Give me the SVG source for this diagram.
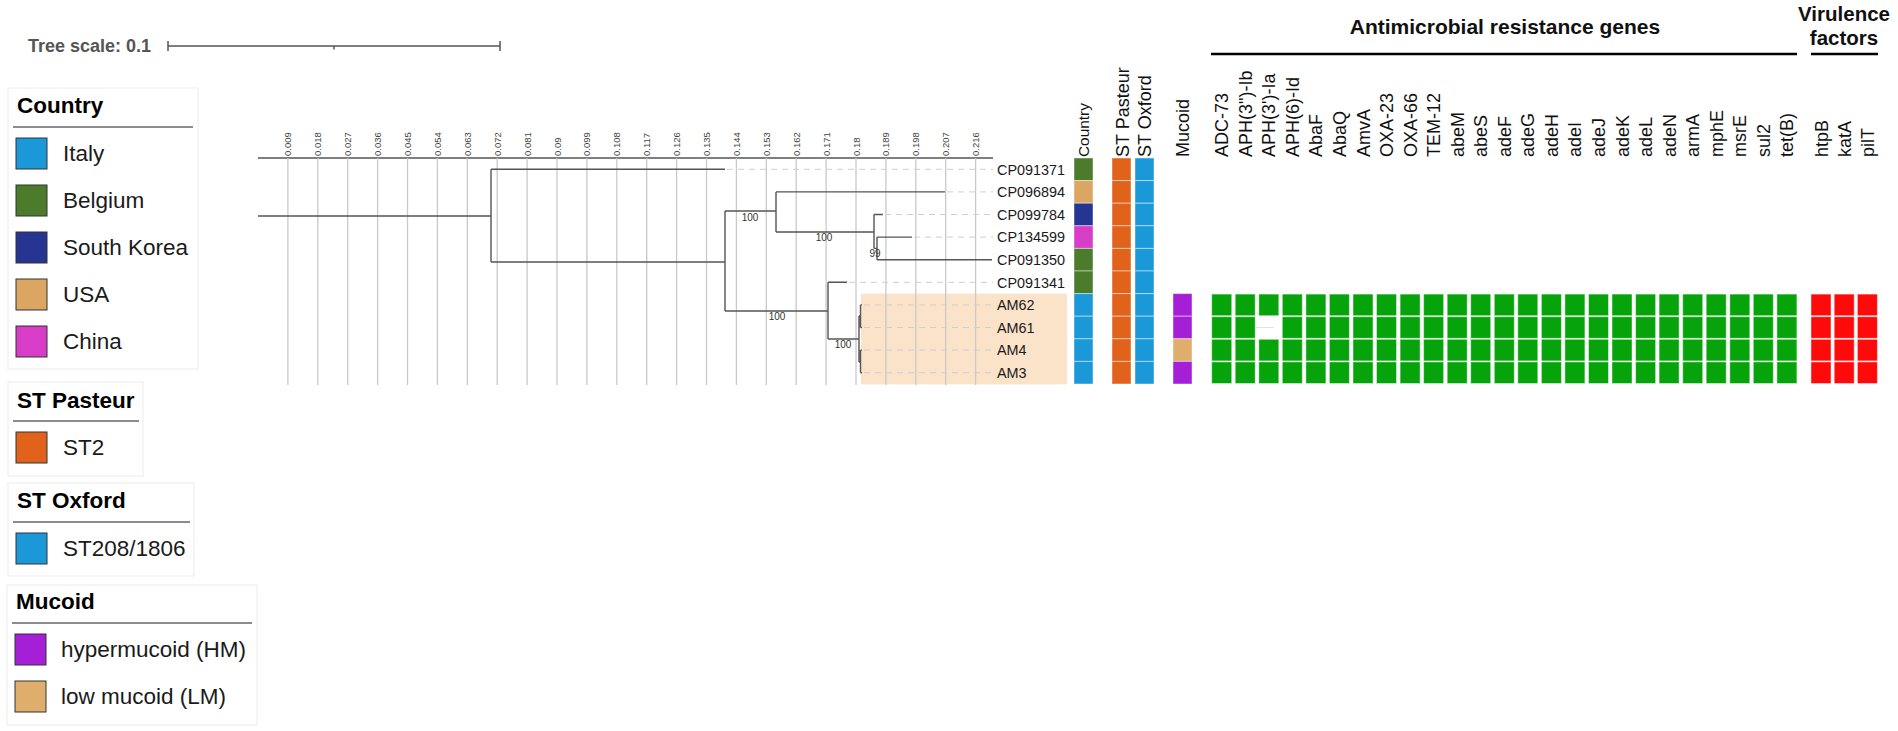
<svg xmlns="http://www.w3.org/2000/svg" width="1898" height="731" viewBox="0 0 1898 731">
<style>
text{font-family:"Liberation Sans",Arial,sans-serif;}
.lbox{fill:#fff;stroke:#ebebeb;stroke-width:1}
.ltitle{font-size:22.5px;font-weight:bold;fill:#000}
.litem{font-size:22.5px;fill:#1a1a1a}
.uline{stroke:#666;stroke-width:1.6}
.sw{stroke:#333;stroke-width:1}
.grid{stroke:#c9c9c9;stroke-width:1.3}
.tick{font-size:9.5px;fill:#444}
.br{stroke:#555;stroke-width:1.4;fill:none}
.lead{stroke:#cfcfcf;stroke-width:1;stroke-dasharray:6 5}
.boot{font-size:10px;fill:#333;text-anchor:middle}
.leaf{font-size:14.4px;fill:#1a1a1a}
.hdr{font-size:18px;fill:#111}
.cell{stroke:#fff;stroke-opacity:0.45;stroke-width:1}
.g{fill:#06a30b}
.r{fill:#fe0a0a}
.big{font-size:21px;font-weight:bold;fill:#111;text-anchor:middle}
</style>

<g id="tree-scale">
<text x="28" y="52" style="font-size:18px;font-weight:bold;fill:#555">Tree scale: 0.1</text>
<path d="M168,46H500M168,41V51M500,41V51M334,46V49.5" stroke="#555" stroke-width="1.5" fill="none"/>
</g>

<g id="legend-country">
<rect class="lbox" x="8" y="88" width="190" height="281"/>
<text class="ltitle" x="17" y="113">Country</text>
<line class="uline" x1="13" y1="127" x2="193" y2="127"/>
<rect class="sw" x="16" y="138" width="31" height="31" fill="#1b98d8"/><text class="litem" x="63" y="161">Italy</text>
<rect class="sw" x="16" y="185" width="31" height="31" fill="#4b7b2b"/><text class="litem" x="63" y="208">Belgium</text>
<rect class="sw" x="16" y="232" width="31" height="31" fill="#263592"/><text class="litem" x="63" y="255">South Korea</text>
<rect class="sw" x="16" y="279" width="31" height="31" fill="#dba662"/><text class="litem" x="63" y="302">USA</text>
<rect class="sw" x="16" y="326" width="31" height="31" fill="#d83dc8"/><text class="litem" x="63" y="349">China</text>
</g>

<g id="legend-st-pasteur">
<rect class="lbox" x="8" y="382" width="135" height="94"/>
<text class="ltitle" x="17" y="408">ST Pasteur</text>
<line class="uline" x1="13" y1="421" x2="139" y2="421"/>
<rect class="sw" x="16" y="432" width="31" height="31" fill="#e0621b"/><text class="litem" x="63" y="455">ST2</text>
</g>

<g id="legend-st-oxford">
<rect class="lbox" x="8" y="483" width="186" height="93"/>
<text class="ltitle" x="17" y="508">ST Oxford</text>
<line class="uline" x1="13" y1="522" x2="190" y2="522"/>
<rect class="sw" x="16" y="533" width="31" height="31" fill="#1b98d8"/><text class="litem" x="63" y="556">ST208/1806</text>
</g>

<g id="legend-mucoid">
<rect class="lbox" x="7" y="585" width="250" height="140"/>
<text class="ltitle" x="16" y="609">Mucoid</text>
<line class="uline" x1="12" y1="623" x2="252" y2="623"/>
<rect class="sw" x="15" y="634" width="31" height="31" fill="#a51fd6"/><text class="litem" x="61" y="657">hypermucoid (HM)</text>
<rect class="sw" x="15" y="681" width="31" height="31" fill="#dfae6c"/><text class="litem" x="61" y="704">low mucoid (LM)</text>
</g>

<g id="highlight">
<rect x="861" y="293.6" width="206" height="90.8" fill="#fbe3c9"/>
</g>

<g id="axis">
<line x1="258" y1="158" x2="993" y2="158" stroke="#555" stroke-width="1.3"/>
<g class="grid">
<line x1="287.9" y1="158" x2="287.9" y2="385"/><line x1="317.8" y1="158" x2="317.8" y2="385"/><line x1="347.7" y1="158" x2="347.7" y2="385"/><line x1="377.6" y1="158" x2="377.6" y2="385"/><line x1="407.5" y1="158" x2="407.5" y2="385"/><line x1="437.4" y1="158" x2="437.4" y2="385"/><line x1="467.3" y1="158" x2="467.3" y2="385"/><line x1="497.2" y1="158" x2="497.2" y2="385"/><line x1="527.1" y1="158" x2="527.1" y2="385"/><line x1="557" y1="158" x2="557" y2="385"/><line x1="586.9" y1="158" x2="586.9" y2="385"/><line x1="616.8" y1="158" x2="616.8" y2="385"/><line x1="646.7" y1="158" x2="646.7" y2="385"/><line x1="676.6" y1="158" x2="676.6" y2="385"/><line x1="706.5" y1="158" x2="706.5" y2="385"/><line x1="736.4" y1="158" x2="736.4" y2="385"/><line x1="766.3" y1="158" x2="766.3" y2="385"/><line x1="796.2" y1="158" x2="796.2" y2="385"/><line x1="826.1" y1="158" x2="826.1" y2="385"/><line x1="856" y1="158" x2="856" y2="385"/><line x1="885.9" y1="158" x2="885.9" y2="385"/><line x1="915.8" y1="158" x2="915.8" y2="385"/><line x1="945.7" y1="158" x2="945.7" y2="385"/><line x1="975.6" y1="158" x2="975.6" y2="385"/>
</g>
<g class="tick">
<text transform="translate(291.4,156) rotate(-90)">0.009</text>
<text transform="translate(321.3,156) rotate(-90)">0.018</text>
<text transform="translate(351.2,156) rotate(-90)">0.027</text>
<text transform="translate(381.1,156) rotate(-90)">0.036</text>
<text transform="translate(411,156) rotate(-90)">0.045</text>
<text transform="translate(440.9,156) rotate(-90)">0.054</text>
<text transform="translate(470.8,156) rotate(-90)">0.063</text>
<text transform="translate(500.7,156) rotate(-90)">0.072</text>
<text transform="translate(530.6,156) rotate(-90)">0.081</text>
<text transform="translate(560.5,156) rotate(-90)">0.09</text>
<text transform="translate(590.4,156) rotate(-90)">0.099</text>
<text transform="translate(620.3,156) rotate(-90)">0.108</text>
<text transform="translate(650.2,156) rotate(-90)">0.117</text>
<text transform="translate(680.1,156) rotate(-90)">0.126</text>
<text transform="translate(710,156) rotate(-90)">0.135</text>
<text transform="translate(739.9,156) rotate(-90)">0.144</text>
<text transform="translate(769.8,156) rotate(-90)">0.153</text>
<text transform="translate(799.7,156) rotate(-90)">0.162</text>
<text transform="translate(829.6,156) rotate(-90)">0.171</text>
<text transform="translate(859.5,156) rotate(-90)">0.18</text>
<text transform="translate(889.4,156) rotate(-90)">0.189</text>
<text transform="translate(919.3,156) rotate(-90)">0.198</text>
<text transform="translate(949.2,156) rotate(-90)">0.207</text>
<text transform="translate(979.1,156) rotate(-90)">0.216</text>
</g>
</g>

<g id="connectors">
<g class="lead">
<line x1="727" y1="169.3" x2="993" y2="169.3"/>
<line x1="947" y1="191.9" x2="993" y2="191.9"/>
<line x1="885" y1="214.5" x2="993" y2="214.5"/>
<line x1="914" y1="237.1" x2="993" y2="237.1"/>
<line x1="849" y1="282.3" x2="993" y2="282.3"/>
<line x1="864" y1="304.9" x2="993" y2="304.9"/>
<line x1="864" y1="327.5" x2="993" y2="327.5"/>
<line x1="864" y1="350.1" x2="993" y2="350.1"/>
<line x1="864" y1="372.7" x2="993" y2="372.7"/>
</g>
<path class="br" d="M258,216H491M491,169.3V262M491,169.3H725M491,262H725M725,211V311M725,211H776M776,191.9V232M776,191.9H945M776,232H874M874,214.5V248.4M874,214.5H883M874,248.4H877M877,237.1V259.7M877,237.1H912M877,259.7H992M725,311H828M828,282.3V339M828,282.3H847M828,339H859M859,316V362M859,316H860.5M859,362H860.5M860.5,304.9V327.5M860.5,350.1V372.7M860.5,304.9H862M860.5,327.5H862M860.5,350.1H862M860.5,372.7H862"/>
<text class="boot" x="750" y="221">100</text>
<text class="boot" x="824" y="241">100</text>
<text class="boot" x="875" y="257">99</text>
<text class="boot" x="777" y="320">100</text>
<text class="boot" x="843" y="348">100</text>
</g>

<g id="leaves" class="leaf">
<text x="997" y="174.5">CP091371</text>
<text x="997" y="197.1">CP096894</text>
<text x="997" y="219.7">CP099784</text>
<text x="997" y="242.3">CP134599</text>
<text x="997" y="264.9">CP091350</text>
<text x="997" y="287.5">CP091341</text>
<text x="997" y="310.1">AM62</text>
<text x="997" y="332.7">AM61</text>
<text x="997" y="355.3">AM4</text>
<text x="997" y="377.9">AM3</text>
</g>

<g id="strip-country">
<text transform="translate(1089,157) rotate(-90)" style="font-size:15.4px;fill:#111">Country</text>
<g class="cell">
<rect x="1074" y="158" width="19" height="22.6" fill="#4b7b2b"/>
<rect x="1074" y="180.6" width="19" height="22.6" fill="#dba662"/>
<rect x="1074" y="203.2" width="19" height="22.6" fill="#263592"/>
<rect x="1074" y="225.8" width="19" height="22.6" fill="#d83dc8"/>
<rect x="1074" y="248.4" width="19" height="22.6" fill="#4b7b2b"/>
<rect x="1074" y="271" width="19" height="22.6" fill="#4b7b2b"/>
<rect x="1074" y="293.6" width="19" height="22.6" fill="#1b98d8"/>
<rect x="1074" y="316.2" width="19" height="22.6" fill="#1b98d8"/>
<rect x="1074" y="338.8" width="19" height="22.6" fill="#1b98d8"/>
<rect x="1074" y="361.4" width="19" height="22.6" fill="#1b98d8"/>
</g>
</g>

<g id="strip-st-pasteur">
<text class="hdr" transform="translate(1128.5,157) rotate(-90)">ST Pasteur</text>
<g class="cell" fill="#e0621b">
<rect x="1112" y="158" width="19" height="22.6"/><rect x="1112" y="180.6" width="19" height="22.6"/><rect x="1112" y="203.2" width="19" height="22.6"/><rect x="1112" y="225.8" width="19" height="22.6"/><rect x="1112" y="248.4" width="19" height="22.6"/><rect x="1112" y="271" width="19" height="22.6"/><rect x="1112" y="293.6" width="19" height="22.6"/><rect x="1112" y="316.2" width="19" height="22.6"/><rect x="1112" y="338.8" width="19" height="22.6"/><rect x="1112" y="361.4" width="19" height="22.6"/>
</g>
</g>

<g id="strip-st-oxford">
<text class="hdr" transform="translate(1151,157) rotate(-90)">ST Oxford</text>
<g class="cell" fill="#1b98d8">
<rect x="1135" y="158" width="19" height="22.6"/><rect x="1135" y="180.6" width="19" height="22.6"/><rect x="1135" y="203.2" width="19" height="22.6"/><rect x="1135" y="225.8" width="19" height="22.6"/><rect x="1135" y="248.4" width="19" height="22.6"/><rect x="1135" y="271" width="19" height="22.6"/><rect x="1135" y="293.6" width="19" height="22.6"/><rect x="1135" y="316.2" width="19" height="22.6"/><rect x="1135" y="338.8" width="19" height="22.6"/><rect x="1135" y="361.4" width="19" height="22.6"/>
</g>
</g>

<g id="strip-mucoid">
<text class="hdr" transform="translate(1189,157) rotate(-90)">Mucoid</text>
<g class="cell">
<rect x="1173" y="293.6" width="19" height="22.6" fill="#a51fd6"/>
<rect x="1173" y="316.2" width="19" height="22.6" fill="#a51fd6"/>
<rect x="1173" y="338.8" width="19" height="22.6" fill="#dfae6c"/>
<rect x="1173" y="361.4" width="19" height="22.6" fill="#a51fd6"/>
</g>
</g>

<g id="amr-genes">
<text class="big" x="1505" y="34">Antimicrobial resistance genes</text>
<line x1="1211" y1="54" x2="1797" y2="54" stroke="#000" stroke-width="2.6"/>
<g class="hdr">
<text transform="translate(1228.2,157) rotate(-90)">ADC-73</text>
<text transform="translate(1251.7,157) rotate(-90)">APH(3")-Ib</text>
<text transform="translate(1275.3,157) rotate(-90)">APH(3')-Ia</text>
<text transform="translate(1298.8,157) rotate(-90)">APH(6)-Id</text>
<text transform="translate(1322.4,157) rotate(-90)">AbaF</text>
<text transform="translate(1345.9,157) rotate(-90)">AbaQ</text>
<text transform="translate(1369.5,157) rotate(-90)">AmvA</text>
<text transform="translate(1393,157) rotate(-90)">OXA-23</text>
<text transform="translate(1416.6,157) rotate(-90)">OXA-66</text>
<text transform="translate(1440.1,157) rotate(-90)">TEM-12</text>
<text transform="translate(1463.7,157) rotate(-90)">abeM</text>
<text transform="translate(1487.2,157) rotate(-90)">abeS</text>
<text transform="translate(1510.8,157) rotate(-90)">adeF</text>
<text transform="translate(1534.3,157) rotate(-90)">adeG</text>
<text transform="translate(1557.9,157) rotate(-90)">adeH</text>
<text transform="translate(1581.4,157) rotate(-90)">adeI</text>
<text transform="translate(1605,157) rotate(-90)">adeJ</text>
<text transform="translate(1628.5,157) rotate(-90)">adeK</text>
<text transform="translate(1652.1,157) rotate(-90)">adeL</text>
<text transform="translate(1675.6,157) rotate(-90)">adeN</text>
<text transform="translate(1699.2,157) rotate(-90)">armA</text>
<text transform="translate(1722.7,157) rotate(-90)">mphE</text>
<text transform="translate(1746.3,157) rotate(-90)">msrE</text>
<text transform="translate(1769.8,157) rotate(-90)">sul2</text>
<text transform="translate(1793.4,157) rotate(-90)">tet(B)</text>
</g>
<line x1="1256" y1="327.5" x2="1274" y2="327.5" stroke="#e3e3e3" stroke-width="1"/>
<g class="cell g">
<rect x="1211.7" y="294.1" width="20" height="21.6"/><rect x="1235.2" y="294.1" width="20" height="21.6"/><rect x="1258.8" y="294.1" width="20" height="21.6"/><rect x="1282.3" y="294.1" width="20" height="21.6"/><rect x="1305.9" y="294.1" width="20" height="21.6"/><rect x="1329.4" y="294.1" width="20" height="21.6"/><rect x="1353" y="294.1" width="20" height="21.6"/><rect x="1376.5" y="294.1" width="20" height="21.6"/><rect x="1400.1" y="294.1" width="20" height="21.6"/><rect x="1423.6" y="294.1" width="20" height="21.6"/><rect x="1447.2" y="294.1" width="20" height="21.6"/><rect x="1470.7" y="294.1" width="20" height="21.6"/><rect x="1494.3" y="294.1" width="20" height="21.6"/><rect x="1517.8" y="294.1" width="20" height="21.6"/><rect x="1541.4" y="294.1" width="20" height="21.6"/><rect x="1564.9" y="294.1" width="20" height="21.6"/><rect x="1588.5" y="294.1" width="20" height="21.6"/><rect x="1612" y="294.1" width="20" height="21.6"/><rect x="1635.6" y="294.1" width="20" height="21.6"/><rect x="1659.1" y="294.1" width="20" height="21.6"/><rect x="1682.7" y="294.1" width="20" height="21.6"/><rect x="1706.2" y="294.1" width="20" height="21.6"/><rect x="1729.8" y="294.1" width="20" height="21.6"/><rect x="1753.3" y="294.1" width="20" height="21.6"/><rect x="1776.9" y="294.1" width="20" height="21.6"/>
<rect x="1211.7" y="316.7" width="20" height="21.6"/><rect x="1235.2" y="316.7" width="20" height="21.6"/><rect x="1282.3" y="316.7" width="20" height="21.6"/><rect x="1305.9" y="316.7" width="20" height="21.6"/><rect x="1329.4" y="316.7" width="20" height="21.6"/><rect x="1353" y="316.7" width="20" height="21.6"/><rect x="1376.5" y="316.7" width="20" height="21.6"/><rect x="1400.1" y="316.7" width="20" height="21.6"/><rect x="1423.6" y="316.7" width="20" height="21.6"/><rect x="1447.2" y="316.7" width="20" height="21.6"/><rect x="1470.7" y="316.7" width="20" height="21.6"/><rect x="1494.3" y="316.7" width="20" height="21.6"/><rect x="1517.8" y="316.7" width="20" height="21.6"/><rect x="1541.4" y="316.7" width="20" height="21.6"/><rect x="1564.9" y="316.7" width="20" height="21.6"/><rect x="1588.5" y="316.7" width="20" height="21.6"/><rect x="1612" y="316.7" width="20" height="21.6"/><rect x="1635.6" y="316.7" width="20" height="21.6"/><rect x="1659.1" y="316.7" width="20" height="21.6"/><rect x="1682.7" y="316.7" width="20" height="21.6"/><rect x="1706.2" y="316.7" width="20" height="21.6"/><rect x="1729.8" y="316.7" width="20" height="21.6"/><rect x="1753.3" y="316.7" width="20" height="21.6"/><rect x="1776.9" y="316.7" width="20" height="21.6"/>
<rect x="1211.7" y="339.3" width="20" height="21.6"/><rect x="1235.2" y="339.3" width="20" height="21.6"/><rect x="1258.8" y="339.3" width="20" height="21.6"/><rect x="1282.3" y="339.3" width="20" height="21.6"/><rect x="1305.9" y="339.3" width="20" height="21.6"/><rect x="1329.4" y="339.3" width="20" height="21.6"/><rect x="1353" y="339.3" width="20" height="21.6"/><rect x="1376.5" y="339.3" width="20" height="21.6"/><rect x="1400.1" y="339.3" width="20" height="21.6"/><rect x="1423.6" y="339.3" width="20" height="21.6"/><rect x="1447.2" y="339.3" width="20" height="21.6"/><rect x="1470.7" y="339.3" width="20" height="21.6"/><rect x="1494.3" y="339.3" width="20" height="21.6"/><rect x="1517.8" y="339.3" width="20" height="21.6"/><rect x="1541.4" y="339.3" width="20" height="21.6"/><rect x="1564.9" y="339.3" width="20" height="21.6"/><rect x="1588.5" y="339.3" width="20" height="21.6"/><rect x="1612" y="339.3" width="20" height="21.6"/><rect x="1635.6" y="339.3" width="20" height="21.6"/><rect x="1659.1" y="339.3" width="20" height="21.6"/><rect x="1682.7" y="339.3" width="20" height="21.6"/><rect x="1706.2" y="339.3" width="20" height="21.6"/><rect x="1729.8" y="339.3" width="20" height="21.6"/><rect x="1753.3" y="339.3" width="20" height="21.6"/><rect x="1776.9" y="339.3" width="20" height="21.6"/>
<rect x="1211.7" y="361.9" width="20" height="21.6"/><rect x="1235.2" y="361.9" width="20" height="21.6"/><rect x="1258.8" y="361.9" width="20" height="21.6"/><rect x="1282.3" y="361.9" width="20" height="21.6"/><rect x="1305.9" y="361.9" width="20" height="21.6"/><rect x="1329.4" y="361.9" width="20" height="21.6"/><rect x="1353" y="361.9" width="20" height="21.6"/><rect x="1376.5" y="361.9" width="20" height="21.6"/><rect x="1400.1" y="361.9" width="20" height="21.6"/><rect x="1423.6" y="361.9" width="20" height="21.6"/><rect x="1447.2" y="361.9" width="20" height="21.6"/><rect x="1470.7" y="361.9" width="20" height="21.6"/><rect x="1494.3" y="361.9" width="20" height="21.6"/><rect x="1517.8" y="361.9" width="20" height="21.6"/><rect x="1541.4" y="361.9" width="20" height="21.6"/><rect x="1564.9" y="361.9" width="20" height="21.6"/><rect x="1588.5" y="361.9" width="20" height="21.6"/><rect x="1612" y="361.9" width="20" height="21.6"/><rect x="1635.6" y="361.9" width="20" height="21.6"/><rect x="1659.1" y="361.9" width="20" height="21.6"/><rect x="1682.7" y="361.9" width="20" height="21.6"/><rect x="1706.2" y="361.9" width="20" height="21.6"/><rect x="1729.8" y="361.9" width="20" height="21.6"/><rect x="1753.3" y="361.9" width="20" height="21.6"/><rect x="1776.9" y="361.9" width="20" height="21.6"/>
</g>
</g>

<g id="virulence-factors">
<text x="1844" y="21" style="font-size:20.5px;font-weight:bold;fill:#111;text-anchor:middle">Virulence</text>
<text x="1844" y="45" style="font-size:20.5px;font-weight:bold;fill:#111;text-anchor:middle">factors</text>
<line x1="1811" y1="54" x2="1878" y2="54" stroke="#000" stroke-width="2.6"/>
<g class="hdr">
<text transform="translate(1827.5,157) rotate(-90)">htpB</text>
<text transform="translate(1850.7,157) rotate(-90)">katA</text>
<text transform="translate(1873.9,157) rotate(-90)">pilT</text>
</g>
<g class="cell r">
<rect x="1811" y="294.1" width="20" height="21.6"/><rect x="1834.2" y="294.1" width="20" height="21.6"/><rect x="1857.4" y="294.1" width="20" height="21.6"/>
<rect x="1811" y="316.7" width="20" height="21.6"/><rect x="1834.2" y="316.7" width="20" height="21.6"/><rect x="1857.4" y="316.7" width="20" height="21.6"/>
<rect x="1811" y="339.3" width="20" height="21.6"/><rect x="1834.2" y="339.3" width="20" height="21.6"/><rect x="1857.4" y="339.3" width="20" height="21.6"/>
<rect x="1811" y="361.9" width="20" height="21.6"/><rect x="1834.2" y="361.9" width="20" height="21.6"/><rect x="1857.4" y="361.9" width="20" height="21.6"/>
</g>
</g>
</svg>
